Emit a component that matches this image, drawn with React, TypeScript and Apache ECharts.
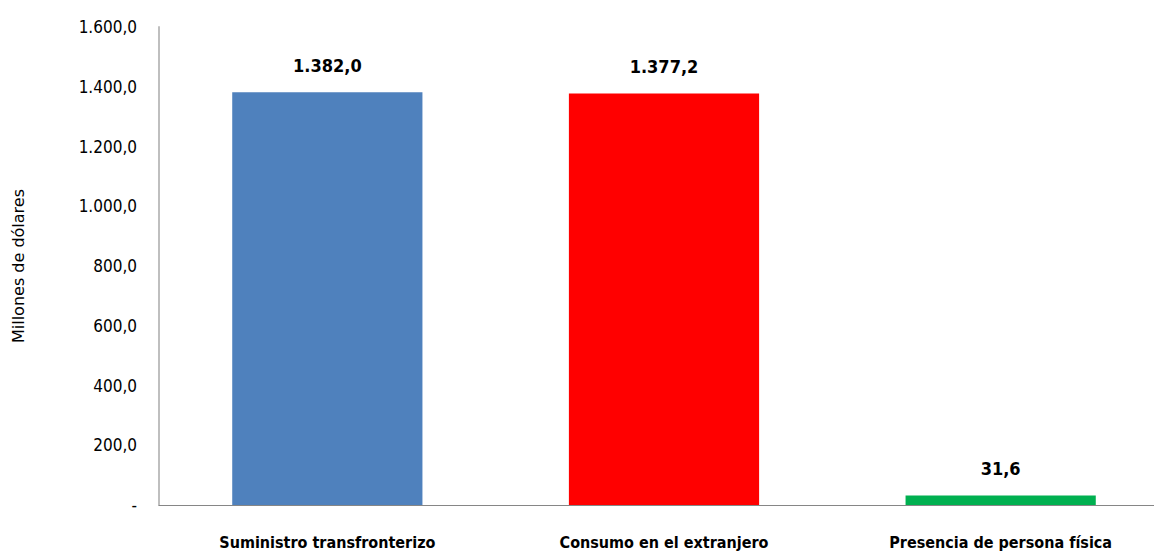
import React, { useEffect, useRef } from "react";
import * as echarts from "echarts";

const categories = ["Suministro transfronterizo", "Consumo en el extranjero", "Presencia de persona física"];
const values = [1382.0, 1377.2, 31.6];
const colors = ["#4F81BD", "#FF0000", "#00B050"];
const yTicks = [0, 200, 400, 600, 800, 1000, 1200, 1400, 1600];

const FONT = "'DejaVu Sans Condensed', 'Liberation Sans Narrow', 'Liberation Sans', sans-serif";

function fmt(v: number): string {
  if (v === 0) return "-";
  const fixed = v.toFixed(1);
  const [intPart, dec] = fixed.split(".");
  const withSep = intPart.replace(/\B(?=(\d{3})+(?!\d))/g, ".");
  return withSep + "," + dec;
}

export default function App() {
  const ref = useRef<HTMLDivElement>(null);
  useEffect(() => {
    document.body.style.margin = "0";
    document.body.style.overflow = "hidden";
    const chart = echarts.init(ref.current!, null, { renderer: "svg" });
    chart.setOption({
      animation: false,
      grid: { left: 159, right: 2, top: 27, bottom: 48, containLabel: false },
      xAxis: {
        type: "category",
        data: categories,
        axisLine: { lineStyle: { color: "#868686", width: 1 } },
        axisTick: { show: false },
        axisLabel: { color: "#000", fontFamily: FONT, fontWeight: "bold", fontSize: 16, margin: 29 },
      },
      yAxis: {
        type: "value",
        min: yTicks[0],
        max: yTicks[yTicks.length - 1],
        interval: 200,
        name: "Millones de dólares",
        nameLocation: "middle",
        nameGap: 133,
        nameTextStyle: { color: "#000", fontFamily: "'DejaVu Sans', sans-serif", fontSize: 16 },
        axisLine: { show: true, lineStyle: { color: "#BFBFBF", width: 2 } },
        axisTick: { show: false },
        splitLine: { show: false },
        axisLabel: { color: "#000", fontFamily: FONT, fontSize: 17, margin: 22, formatter: (v: number) => fmt(v) },
      },
      series: [
        {
          type: "bar",
          barWidth: "56.5%",
          data: values.map((v, i) => ({ value: v, itemStyle: { color: colors[i] } })),
          label: {
            show: true,
            position: "top",
            distance: 18,
            color: "#000",
            fontFamily: FONT,
            fontWeight: "bold",
            fontSize: 18,
            formatter: (p: any) => fmt(p.value),
          },
        },
      ],
    });
    return () => chart.dispose();
  }, []);
  return <div ref={ref} style={{ width: 1171, height: 553 }} />;
}
